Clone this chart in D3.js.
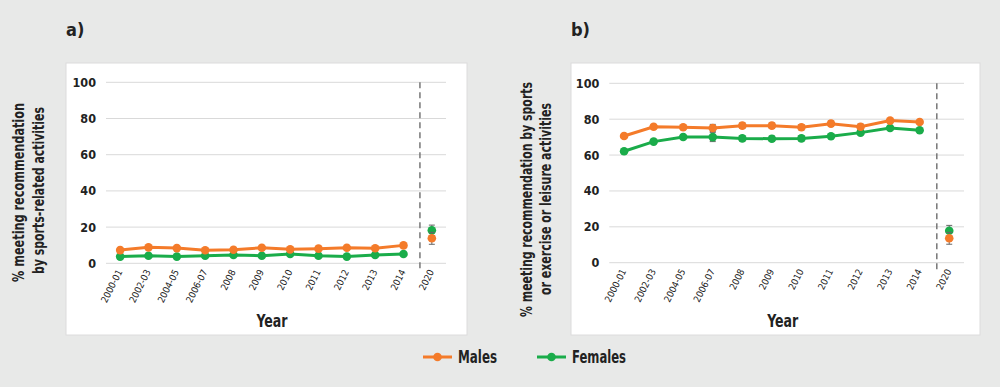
<!DOCTYPE html>
<html>
<head>
<meta charset="utf-8">
<script src="https://cdn.jsdelivr.net/npm/d3@7"></script>
<style>
  body { margin: 0; background: #e8e9e8; }
  svg { display: block; font-family: "DejaVu Sans Condensed", "DejaVu Sans", sans-serif; }
  .grid line { stroke: #d9d9d9; }
</style>
</head>
<body>
<div id="chart"></div>
<script>
// categories on the x axis
const years = ["2000-01", "2002-03", "2004-05", "2006-07", "2008", "2009", "2010", "2011", "2012", "2013", "2014", "2020"];
const yTicks = [0, 20, 40, 60, 80, 100];

// panel a: sports-related activities
const malesA = [7.3, 8.8, 8.4, 7.2, 7.5, 8.6, 7.7, 8.1, 8.6, 8.3, 9.9, 13.8];
const malesAErr = [0.8, 0.8, 0.8, 0.8, 0.8, 0.8, 0.8, 0.8, 0.8, 0.8, 0.8, 3.3];
const femalesA = [3.7, 4.2, 3.7, 4.2, 4.6, 4.2, 5.1, 4.2, 3.7, 4.6, 5.1, 18.2];
const femalesAErr = [0.6, 0.6, 0.6, 0.6, 0.6, 0.6, 0.6, 0.6, 0.6, 0.6, 0.6, 2.9];

// panel b: sports or exercise or leisure activities
const malesB = [70.6, 75.8, 75.5, 75.1, 76.4, 76.4, 75.5, 77.5, 75.8, 79.2, 78.4, 13.6];
const malesBErr = [1, 1, 1, 2, 1.5, 1.5, 1.5, 1.5, 1.5, 1, 1, 3.3];
const femalesB = [62.1, 67.5, 70.1, 70.0, 69.3, 69.1, 69.3, 70.5, 72.5, 75.1, 73.8, 17.8];
const femalesBErr = [1, 1, 1, 2.5, 1.5, 1.5, 1.5, 1, 1, 1, 1, 3];

const colors = { Males: "#f47b2a", Females: "#1aac4a" };

const svg = d3.select("#chart").append("svg")
  .attr("width", 1000)
  .attr("height", 387);

const panels = [
  {
    label: "a)", box: [66, 63, 401, 272], plot: { x0: 106, x1: 446, y0: 263.3, y1: 82.3 },
    title: ["% meeting recommendation", "by sports-related activities"],
    titleX: [24, 44], titleY: [192.5, 190.5], titleLen: [179, 167],
    series: [
      { name: "Females", values: femalesA, err: femalesAErr },
      { name: "Males", values: malesA, err: malesAErr }
    ]
  },
  {
    label: "b)", box: [571, 63, 409, 272], plot: { x0: 609.3, x1: 964, y0: 262.7, y1: 83.3 },
    title: ["% meeting recommendation by sports", "or exercise or leisure activities"],
    titleX: [532, 551], titleY: [199.5, 199], titleLen: [235, 192],
    series: [
      { name: "Females", values: femalesB, err: femalesBErr },
      { name: "Males", values: malesB, err: malesBErr }
    ]
  }
];

panels.forEach((p) => {
  // white panel
  svg.append("rect")
    .attr("x", p.box[0]).attr("y", p.box[1])
    .attr("width", p.box[2]).attr("height", p.box[3])
    .attr("fill", "#fff").attr("stroke", "#dcdcdc");

  svg.append("text")
    .attr("x", p.box[0]).attr("y", 36)
    .attr("font-size", 18).attr("font-weight", "bold").attr("fill", "#222")
    .text(p.label);

  const x = d3.scaleBand().domain(years).range([p.plot.x0, p.plot.x1]);
  const y = d3.scaleLinear().domain([0, 100]).range([p.plot.y0, p.plot.y1]);
  const cx = (d) => x(d) + x.bandwidth() / 2;

  // gridlines
  svg.append("g").attr("class", "grid")
    .selectAll("line").data(yTicks).enter().append("line")
    .attr("x1", p.plot.x0).attr("x2", p.plot.x1)
    .attr("y1", (d) => y(d)).attr("y2", (d) => y(d));

  // y axis
  const yAxis = svg.append("g")
    .attr("transform", `translate(${p.plot.x0 - 7},0)`)
    .call(d3.axisLeft(y).tickValues(yTicks).tickSize(0));
  yAxis.select(".domain").remove();
  yAxis.selectAll("text")
    .attr("font-size", 12.5).attr("font-weight", "bold").attr("fill", "#222")
    .attr("font-family", "DejaVu Sans Condensed");

  // x axis labels, rotated
  const xAxis = svg.append("g")
    .attr("transform", `translate(0,${p.plot.y0 + 6})`)
    .call(d3.axisBottom(x).tickSize(0));
  xAxis.select(".domain").remove();
  xAxis.selectAll("text")
    .attr("font-size", 9.5).attr("fill", "#222")
    .attr("font-family", "DejaVu Sans Condensed")
    .attr("text-anchor", "end")
    .attr("dy", "0.35em").attr("y", 0).attr("x", -1)
    .attr("transform", "rotate(-63)");

  // dashed separator before 2020
  const sepX = cx("2014") + x.bandwidth() * 0.58;
  svg.append("line")
    .attr("x1", sepX).attr("x2", sepX)
    .attr("y1", y(100)).attr("y2", y(0) + 7)
    .attr("stroke", "#777").attr("stroke-width", 1.5)
    .attr("stroke-dasharray", "6,4");

  // y title, squeezed to the condensed width of the original
  p.title.forEach((t, i) => {
    svg.append("text")
      .attr("transform", `translate(${p.titleX[i]},${p.titleY[i]}) rotate(-90)`)
      .attr("text-anchor", "middle")
      .attr("textLength", p.titleLen[i]).attr("lengthAdjust", "spacingAndGlyphs")
      .attr("font-size", 16).attr("font-weight", "bold").attr("fill", "#222")
      .text(t);
  });

  svg.append("text")
    .attr("x", (p.plot.x0 + p.plot.x1) / 2 - 4).attr("y", 327)
    .attr("text-anchor", "middle")
    .attr("textLength", 31).attr("lengthAdjust", "spacingAndGlyphs")
    .attr("font-size", 17).attr("font-weight", "bold").attr("fill", "#222")
    .text("Year");

  const line = d3.line().x((d) => cx(d.year)).y((d) => y(d.v));

  p.series.forEach((s) => {
    const pts = years.map((yr, i) => ({ year: yr, v: s.values[i], e: s.err[i] }));
    const trend = pts.slice(0, 11);

    // error bars
    const eb = svg.append("g").attr("stroke", "#666").attr("stroke-width", 1);
    pts.forEach((d) => {
      eb.append("line").attr("x1", cx(d.year)).attr("x2", cx(d.year))
        .attr("y1", y(d.v - d.e)).attr("y2", y(d.v + d.e));
      [d.v - d.e, d.v + d.e].forEach((v) => {
        eb.append("line").attr("x1", cx(d.year) - 3).attr("x2", cx(d.year) + 3)
          .attr("y1", y(v)).attr("y2", y(v));
      });
    });

    svg.append("path").datum(trend)
      .attr("fill", "none").attr("stroke", colors[s.name]).attr("stroke-width", 3)
      .attr("d", line);

    svg.append("g").selectAll("circle").data(pts).enter().append("circle")
      .attr("cx", (d) => cx(d.year)).attr("cy", (d) => y(d.v))
      .attr("r", 4.3).attr("fill", colors[s.name]);
  });
});

// legend
const legend = [
  { name: "Males", x: 423, len: 39 },
  { name: "Females", x: 537, len: 54 }
];
legend.forEach((l) => {
  const g = svg.append("g").attr("transform", `translate(${l.x},357)`);
  g.append("line").attr("x1", 0).attr("x2", 29).attr("stroke", colors[l.name]).attr("stroke-width", 3);
  g.append("circle").attr("cx", 14.5).attr("r", 4.3).attr("fill", colors[l.name]);
  g.append("text").attr("x", 35).attr("y", 6)
    .attr("textLength", l.len).attr("lengthAdjust", "spacingAndGlyphs")
    .attr("font-size", 17).attr("font-weight", "bold").attr("fill", "#222")
    .text(l.name);
});
</script>
</body>
</html>
